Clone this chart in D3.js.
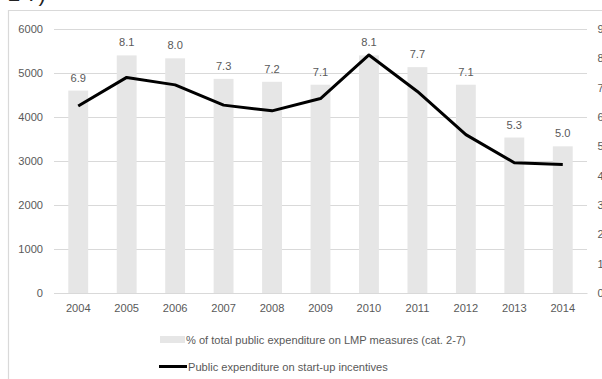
<!DOCTYPE html>
<html>
<head>
<meta charset="utf-8">
<script src="https://cdn.jsdelivr.net/npm/d3@7"></script>
<style>
  html, body { margin: 0; padding: 0; background: #fff; }
  svg { display: block; }
  text { font-family: "Liberation Sans", Arial, sans-serif; }
</style>
</head>
<body>
<div id="chart"></div>
<script>
// Years on the category axis
const years = ["2004","2005","2006","2007","2008","2009","2010","2011","2012","2013","2014"];
// Share of total public expenditure on LMP measures (cat. 2-7), %
const sharePct = [6.9, 8.1, 8.0, 7.3, 7.2, 7.1, 8.1, 7.7, 7.1, 5.3, 5.0];
// Public expenditure on start-up incentives
const startUpSpend = [4250, 4900, 4730, 4270, 4140, 4420, 5410, 4580, 3600, 2960, 2920];
// Axis ticks
const leftTicks = [0, 1000, 2000, 3000, 4000, 5000, 6000];
const rightTicks = [0, 1, 2, 3, 4, 5, 6, 7, 8, 9];
const legendLabels = ["% of total public expenditure on LMP measures (cat. 2-7)",
                      "Public expenditure on start-up incentives"];

const W = 602, H = 379;
const plot = { left: 54, right: 587, top: 29, bottom: 293 };
const grey = "#595959", gridCol = "#d9d9d9", barCol = "#e6e6e6";
const fs = 11.1;

const svg = d3.select("#chart").append("svg").attr("width", W).attr("height", H);

// Heading text running off the top edge
svg.append("text").attr("x", 8).attr("y", 1)
  .attr("font-size", 22).attr("fill", "#222").text("2 7)");

// Chart frame (open to the right and bottom)
svg.append("path").attr("d", `M8.5,${H} V10.5 H${W}`)
  .attr("fill", "none").attr("stroke", "#d9d9d9").attr("stroke-width", 1.2);

const x = d3.scaleBand().domain(years).range([plot.left, plot.right]).paddingInner(0.59).paddingOuter(0.295);
const yL = d3.scaleLinear().domain([0, 6000]).range([plot.bottom, plot.top]);
const yR = d3.scaleLinear().domain([0, 9]).range([plot.bottom, plot.top]);

// Gridlines
svg.append("g").selectAll("line").data(leftTicks).join("line")
  .attr("x1", plot.left).attr("x2", plot.right)
  .attr("y1", d => Math.round(yL(d)) + 0.5).attr("y2", d => Math.round(yL(d)) + 0.5)
  .attr("stroke", gridCol).attr("stroke-width", 1);

// Left axis labels
const leftAxis = d3.axisLeft(yL).tickValues(leftTicks).tickSize(0).tickPadding(0).tickFormat(d3.format("d"));
const gL = svg.append("g").attr("transform", `translate(43,0)`).call(leftAxis);
gL.select(".domain").remove();
gL.selectAll("text").attr("font-size", fs).attr("fill", grey).attr("font-family", "Liberation Sans, Arial, sans-serif");

// Right axis labels (running past the right edge)
const rightAxis = d3.axisRight(yR).tickValues(rightTicks).tickSize(0).tickPadding(0).tickFormat(d3.format("d"));
const gR = svg.append("g").attr("transform", `translate(597.5,0)`).call(rightAxis);
gR.select(".domain").remove();
gR.selectAll("text").attr("font-size", fs).attr("fill", grey).attr("font-family", "Liberation Sans, Arial, sans-serif");

// Bars
svg.append("g").selectAll("rect").data(years).join("rect")
  .attr("x", d => x(d)).attr("width", x.bandwidth())
  .attr("y", (d, i) => yR(sharePct[i])).attr("height", (d, i) => plot.bottom - yR(sharePct[i]))
  .attr("fill", barCol);

// Bar value labels
svg.append("g").selectAll("text").data(years).join("text")
  .attr("x", d => x(d) + x.bandwidth() / 2)
  .attr("y", (d, i) => yR(sharePct[i]) - 9)
  .attr("text-anchor", "middle").attr("font-size", fs).attr("fill", grey)
  .text((d, i) => d3.format(".1f")(sharePct[i]));

// Category axis
const xAxis = d3.axisBottom(x).tickSize(0).tickPadding(11);
const gX = svg.append("g").attr("transform", `translate(0,${plot.bottom})`).call(xAxis);
gX.select(".domain").attr("stroke", gridCol);
gX.selectAll("text").attr("font-size", fs).attr("fill", grey).attr("font-family", "Liberation Sans, Arial, sans-serif");

// Line
const line = d3.line().x((d, i) => x(years[i]) + x.bandwidth() / 2).y(d => yL(d));
svg.append("path").datum(startUpSpend).attr("d", line)
  .attr("fill", "none").attr("stroke", "#000").attr("stroke-width", 3)
  .attr("stroke-linejoin", "round");

// Legend
const lg = svg.append("g");
lg.append("rect").attr("x", 160).attr("y", 336).attr("width", 25).attr("height", 7).attr("fill", barCol);
lg.append("text").attr("x", 186).attr("y", 343.5).attr("font-size", fs).attr("fill", grey).text(legendLabels[0]);
lg.append("line").attr("x1", 159).attr("x2", 187).attr("y1", 366.5).attr("y2", 366.5)
  .attr("stroke", "#000").attr("stroke-width", 3);
lg.append("text").attr("x", 188).attr("y", 371).attr("font-size", fs).attr("fill", grey).text(legendLabels[1]);
</script>
</body>
</html>
